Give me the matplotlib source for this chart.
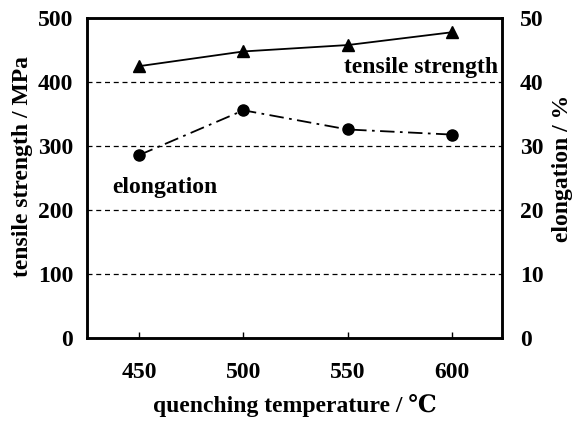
import numpy as np
import matplotlib.pyplot as plt

plt.rcParams['font.family'] = ['Liberation Serif', 'DejaVu Serif']
plt.rcParams['font.weight'] = 'bold'

temps = [450, 500, 550, 600]
tensile = [425, 448, 458, 478]
elong = [28.6, 35.6, 32.6, 31.8]

fig = plt.figure(figsize=(5.73, 4.23), dpi=100)
ax = fig.add_axes([0.152, 0.201, 0.724, 0.756])
ax2 = ax.twinx()

for y in [100, 200, 300, 400]:
    ax.axhline(y, color='k', lw=0.9, ls=(0, (4, 3)), zorder=1)

ax.plot(temps, tensile, color='k', lw=1.3, marker='^', ms=9, zorder=3)
ax2.plot(temps, elong, color='k', lw=1.3, ls=(0, (8, 3, 1.5, 3)),
         marker='o', ms=8, zorder=3)

ax.set_xlim(425, 624)
ax.set_ylim(0, 500)
ax2.set_ylim(0, 50)
ax.set_xticks(temps)
ax.set_yticks([0, 100, 200, 300, 400, 500])
ax2.set_yticks([0, 10, 20, 30, 40, 50])

ax.tick_params(axis='x', direction='in', length=4, width=1, labelsize=17, pad=17)
ax.tick_params(axis='y', length=0, labelsize=17, pad=10)
ax2.tick_params(axis='y', length=0, labelsize=17, pad=13)
for sp in ax.spines.values():
    sp.set_linewidth(1.8)
for sp in ax2.spines.values():
    sp.set_linewidth(1.8)

ax.set_xlabel('quenching temperature / ℃', fontsize=17, fontweight='bold', labelpad=8)
ax.set_ylabel('tensile strength / MPa', fontsize=17, fontweight='bold')
ax2.set_ylabel('elongation / %', fontsize=17, fontweight='bold')
ax.yaxis.set_label_coords(-0.13, 0.535)
ax2.yaxis.set_label_coords(1.12, 0.53)

ax.text(622, 406, 'tensile strength', fontsize=17, fontweight='bold',
        ha='right', va='bottom', clip_on=False)
ax.text(437, 236, 'elongation', fontsize=17, fontweight='bold',
        ha='left', va='center')

fig.savefig('out.png', dpi=100)
